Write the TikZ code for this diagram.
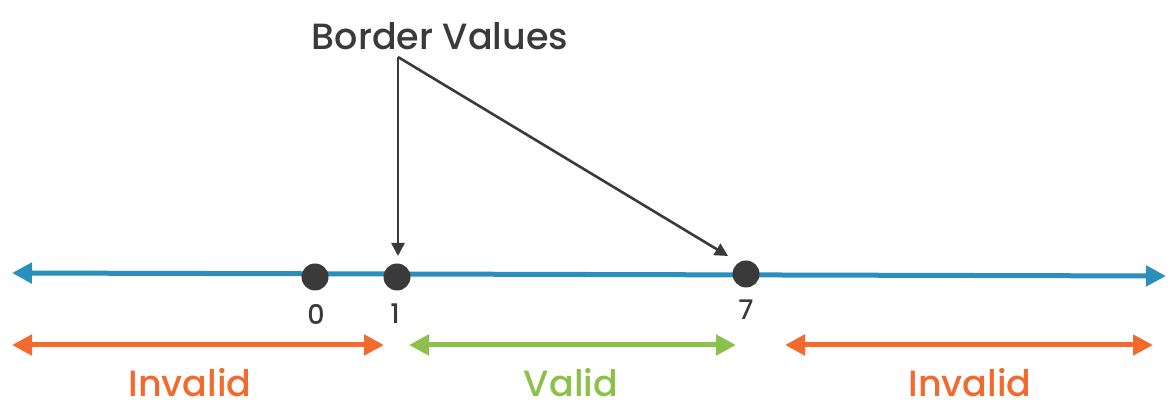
\documentclass[tikz,border=0pt]{standalone}
\usepackage{fontspec}
\setmainfont{Poppins Medium}
\usetikzlibrary{arrows.meta}
\definecolor{lineblue}{HTML}{2A8FBD}
\definecolor{invorange}{HTML}{F26A2E}
\definecolor{validgreen}{HTML}{8DC04A}
\definecolor{darkgray}{HTML}{3A3A3A}
\begin{document}
\begin{tikzpicture}[x=1pt,y=-1pt,
  dotnode/.style={circle,fill=darkgray,inner sep=0pt,minimum size=27pt},
  numlabel/.style={text=darkgray,font=\fontsize{27}{30}\selectfont},
  rangelabel/.style={font=\fontsize{36.5}{42}\selectfont},
  bigarrow/.style={line width=5pt,{Triangle[length=20pt,width=20pt]}-{Triangle[length=20pt,width=20pt]}},
  pointer/.style={line width=2.6pt,draw=darkgray,-{Triangle[length=13pt,width=13pt]}}]
\useasboundingbox (0,0) rectangle (1175,411);
% number line
\coordinate (L) at (12,273);
\coordinate (R) at (1166,276);
\draw[lineblue,bigarrow] (L) -- (R);
% dots
\node[dotnode] (d0) at (315,277) {};
\node[dotnode] (d1) at (397,277) {};
\node[dotnode] (d7) at (746,274) {};
\node[numlabel] (n0) at (316,314) {0};
\node[numlabel] (n1) at (395,314) {1};
\node[numlabel] (n7) at (746,310) {7};
% border values
\node[text=darkgray,font=\fontsize{36.5}{42}\selectfont] (bv) at (440,36) {Border Values};
\coordinate (src) at (398,57);
\coordinate (t1) at (398,256);
\coordinate (t7) at (728,256);
\draw[pointer] (src) -- (t1);
\draw[pointer,line join=miter] (src) -- (t7);
% ranges
\coordinate (a1) at (12,345);
\coordinate (a2) at (384,345);
\coordinate (b1) at (409,345);
\coordinate (b2) at (736,345);
\coordinate (c1) at (785,345);
\coordinate (c2) at (1153,345);
\draw[invorange,bigarrow] (a1) -- (a2);
\draw[validgreen,bigarrow] (b1) -- (b2);
\draw[invorange,bigarrow] (c1) -- (c2);
\node[rangelabel,text=invorange] (inv1) at (190,383) {Invalid};
\node[rangelabel,text=validgreen] (val) at (571,383) {Valid};
\node[rangelabel,text=invorange] (inv2) at (970,383) {Invalid};
\end{tikzpicture}
\end{document}
